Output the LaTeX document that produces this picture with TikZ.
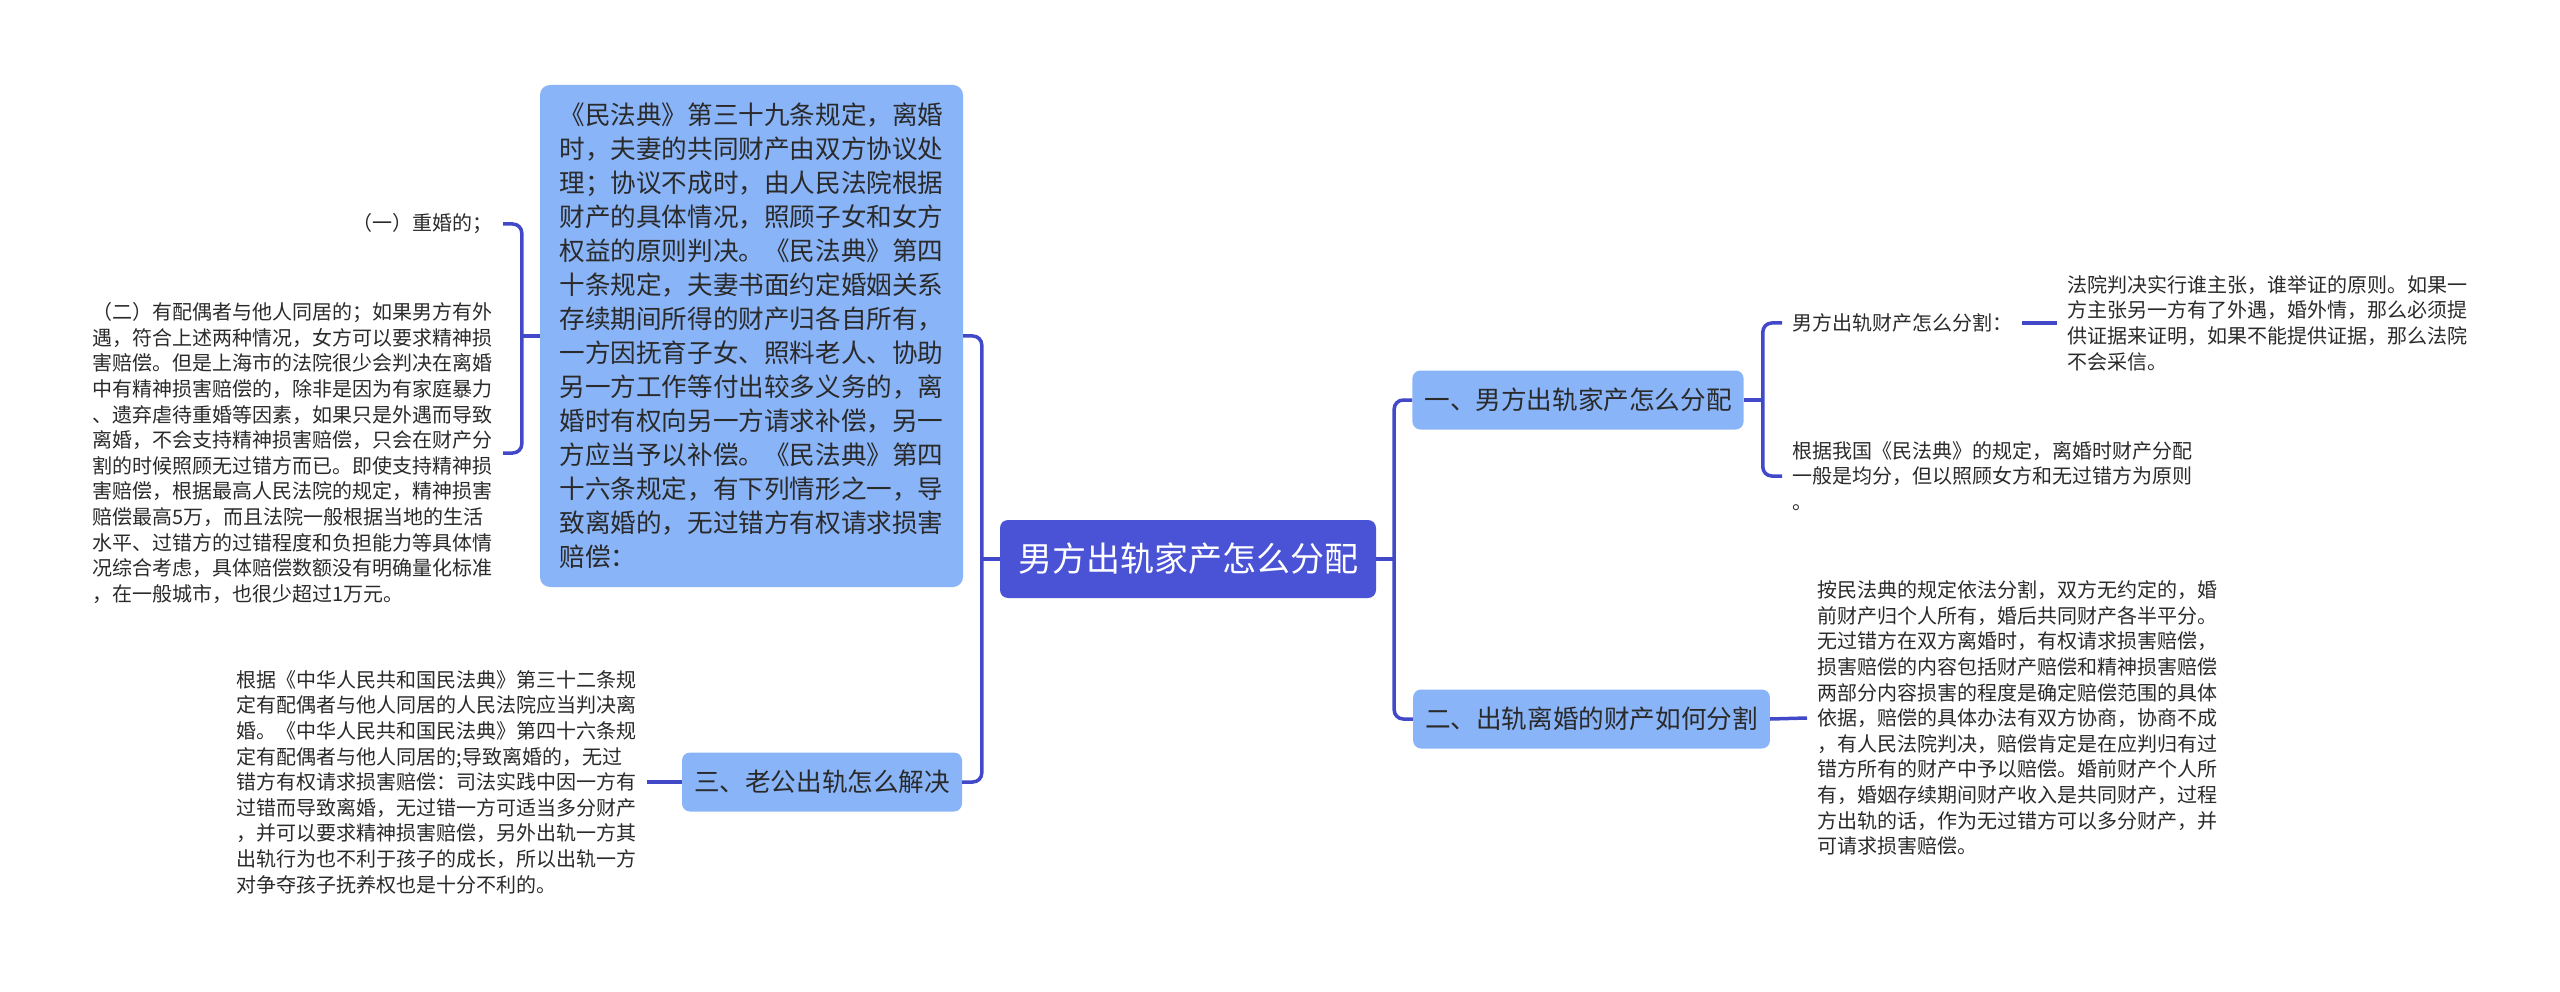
\documentclass[tikz,border=0pt]{standalone}
\usepackage{fontspec}
\newfontfamily\cjk{Noto Sans CJK SC}
\usepackage{xcolor}
\usetikzlibrary{
	calc,
	positioning
}
\definecolor{rootblue}{HTML}{4A52D5}
\definecolor{boxblue}{HTML}{8AB4F8}
\definecolor{linkblue}{HTML}{4249C8}
\definecolor{inkgray}{HTML}{2A2A2A}

\begin{document}
\begin{tikzpicture}[x=1pt, y=-1pt,
	root/.style={fill=rootblue, rounded corners=8pt, text=white, font=\cjk\fontsize{34}{40}\selectfont, minimum height=78pt, inner xsep=18pt},
	topic/.style={fill=boxblue, rounded corners=8pt, text=inkgray, font=\cjk\fontsize{25.6}{30}\selectfont, minimum height=59pt, inner xsep=12pt},
	leaf/.style={text=inkgray, font=\cjk\fontsize{20}{25.6}\selectfont, align=left, inner sep=10pt},
	link/.style={draw=linkblue, line width=3.5pt, rounded corners=9pt}]
		\useasboundingbox (0,0) rectangle (2560,992);
		\node[root] (root) at (1188,559) {男方出轨家产怎么分配};
		\node[topic, align=left, minimum width=423pt, minimum height=502pt, rounded corners=10pt, font=\cjk\fontsize{25.6}{34}\selectfont] (law) at (751.5,336) {《民法典》第三十九条规定，离婚\\时，夫妻的共同财产由双方协议处\\理；协议不成时，由人民法院根据\\财产的具体情况，照顾子女和女方\\权益的原则判决。《民法典》第四\\十条规定，夫妻书面约定婚姻关系\\存续期间所得的财产归各自所有，\\一方因抚育子女、照料老人、协助\\另一方工作等付出较多义务的，离\\婚时有权向另一方请求补偿，另一\\方应当予以补偿。《民法典》第四\\十六条规定，有下列情形之一，导\\致离婚的，无过错方有权请求损害\\赔偿：};
		\node[topic] (b1) at (1578,400) {一、男方出轨家产怎么分配};
		\node[topic] (b2) at (1591.5,719) {二、出轨离婚的财产如何分割};
		\node[topic] (b3) at (822,782) {三、老公出轨怎么解决};

		\node[leaf, anchor=east] (l1) at (503,224) {（一）重婚的；};
		\node[leaf, anchor=east] (l2) at (503,453) {（二）有配偶者与他人同居的；如果男方有外\\遇，符合上述两种情况，女方可以要求精神损\\害赔偿。但是上海市的法院很少会判决在离婚\\中有精神损害赔偿的，除非是因为有家庭暴力\\、遗弃虐待重婚等因素，如果只是外遇而导致\\离婚，不会支持精神损害赔偿，只会在财产分\\割的时候照顾无过错方而已。即使支持精神损\\害赔偿，根据最高人民法院的规定，精神损害\\赔偿最高5万，而且法院一般根据当地的生活\\水平、过错方的过错程度和负担能力等具体情\\况综合考虑，具体赔偿数额没有明确量化标准\\，在一般城市，也很少超过1万元。};
		\node[leaf, anchor=east] (l3) at (647,782) {根据《中华人民共和国民法典》第三十二条规\\定有配偶者与他人同居的人民法院应当判决离\\婚。《中华人民共和国民法典》第四十六条规\\定有配偶者与他人同居的;导致离婚的，无过\\错方有权请求损害赔偿：司法实践中因一方有\\过错而导致离婚，无过错一方可适当多分财产\\，并可以要求精神损害赔偿，另外出轨一方其\\出轨行为也不利于孩子的成长，所以出轨一方\\对争夺孩子抚养权也是十分不利的。};
		\node[leaf, anchor=west] (r1) at (1782,323) {男方出轨财产怎么分割：};
		\node[leaf, anchor=west, right=35pt of r1] (r1a) {法院判决实行谁主张，谁举证的原则。如果一\\方主张另一方有了外遇，婚外情，那么必须提\\供证据来证明，如果不能提供证据，那么法院\\不会采信。};
		\node[leaf, anchor=west] (r2) at (1782,476) {根据我国《民法典》的规定，离婚时财产分配\\一般是均分，但以照顾女方和无过错方为原则\\。};
		\node[leaf, anchor=west] (r3) at (1807,718) {按民法典的规定依法分割，双方无约定的，婚\\前财产归个人所有，婚后共同财产各半平分。\\无过错方在双方离婚时，有权请求损害赔偿，\\损害赔偿的内容包括财产赔偿和精神损害赔偿\\两部分内容损害的程度是确定赔偿范围的具体\\依据，赔偿的具体办法有双方协商，协商不成\\，有人民法院判决，赔偿肯定是在应判归有过\\错方所有的财产中予以赔偿。婚前财产个人所\\有，婚姻存续期间财产收入是共同财产，过程\\方出轨的话，作为无过错方可以多分财产，并\\可请求损害赔偿。};

		\coordinate (jl) at ($(root.west)+(-18,0)$);
		\coordinate (jr) at ($(root.east)+(18,0)$);
		\coordinate (j0) at ($(law.west)+(-18,0)$);
		\coordinate (j1) at ($(b1.east)+(19,0)$);
		\draw[link] (root.west) -- (jl);
		\draw[link] (jl) |- (law.east);
		\draw[link] (jl) |- (b3.east);
		\draw[link] (root.east) -- (jr);
		\draw[link] (jr) |- (b1.west);
		\draw[link] (jr) |- (b2.west);
		\draw[link] (law.west) -- (j0);
		\draw[link] (j0) |- (l1.east);
		\draw[link] (j0) |- (l2.east);
		\draw[link] (b1.east) -- (j1);
		\draw[link] (j1) |- (r1.west);
		\draw[link] (j1) |- (r2.west);
		\draw[link] (r1.east) -- (r1a.west);
		\draw[link] (b2.east) -- (r3.west);
		\draw[link] (b3.west) -- (l3.east);
	\end{tikzpicture}
\end{document}
